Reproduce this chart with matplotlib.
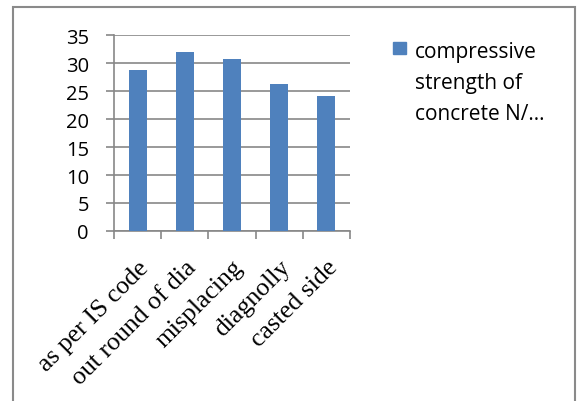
import matplotlib
matplotlib.use("Agg")
import matplotlib.pyplot as plt
from matplotlib.patches import Rectangle

# data
categories = ["as per IS code", "out round of dia", "misplacing", "diagnolly", "casted side"]
strength = [28.7, 31.9, 30.8, 26.2, 24.1]
series_label = "compressive\nstrength of\nconcrete N/…"
yticks = [0, 5, 10, 15, 20, 25, 30, 35]

bar_color = "#4F81BD"
grid_color = "#878787"
W, H = 578, 402

fig = plt.figure(figsize=(5.78, 4.02), dpi=100)
ax = fig.add_axes([114 / W, 1 - 232 / H, (350 - 114) / W, (232 - 36) / H])

x = range(len(categories))
ax.bar(x, strength, width=0.38, color=bar_color, zorder=3)

ax.set_xlim(-0.5, len(categories) - 0.5)
ax.set_ylim(0, 35)
ax.set_yticks(yticks)
ax.set_yticklabels([str(v) for v in yticks], fontsize=14.5, family="Open Sans")
ax.yaxis.grid(True, color=grid_color, linewidth=1.2, zorder=0)

# category ticks sit between bars
ax.set_xticks([i - 0.5 for i in range(len(categories) + 1)])
ax.set_xticklabels([])
ax.set_xticks(list(x), minor=True)
ax.set_xticklabels(categories, minor=True, rotation=45, ha="right", va="top",
                   rotation_mode="anchor", fontsize=18.5, family="Liberation Serif")
ax.tick_params(axis="x", which="minor", length=0, pad=18)
ax.tick_params(axis="x", which="major", length=6, width=1.2, color=grid_color, direction="out")
ax.tick_params(axis="y", length=6, width=1.2, color=grid_color, pad=12)

for side in ["top", "right"]:
    ax.spines[side].set_visible(False)
for side in ["left", "bottom"]:
    ax.spines[side].set_color(grid_color)
    ax.spines[side].set_linewidth(1.2)

# legend drawn by hand: square + multi-line label
fig.add_artist(Rectangle((393 / W, 1 - 55 / H), 13 / W, 12 / H,
                         transform=fig.transFigure, color=bar_color))
fig.text(415 / W, 1 - 42 / H, series_label, ha="left", va="top",
         fontsize=15, family="Open Sans", linespacing=1.62)

# outer chart border
fig.add_artist(Rectangle((13 / W, -0.2), (575 - 13) / W, 1.2 - 8 / H,
                         transform=fig.transFigure, fill=False,
                         edgecolor="#8a8a8a", linewidth=1.5))

fig.savefig("out.png", dpi=100)
